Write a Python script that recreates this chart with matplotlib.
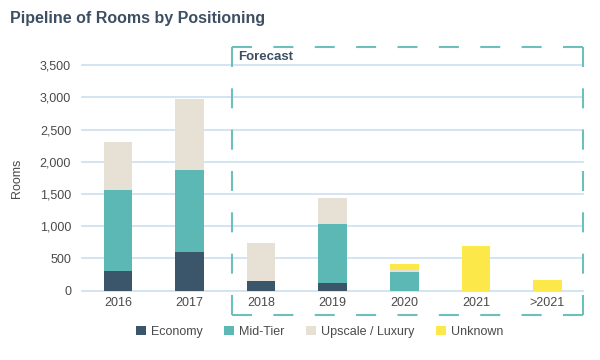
import numpy as np
from matplotlib import pyplot as plt
from matplotlib.lines import Line2D
from matplotlib.patches import Patch

plt.rcParams['font.family'] = ['Liberation Sans', 'DejaVu Sans']

# values
years = ["2016", "2017", "2018", "2019", "2020", "2021", ">2021"]
economy = [300, 600, 150, 120, 0, 0, 0]
mid_tier = [1260, 1270, 0, 910, 290, 0, 0]
upscale = [740, 1100, 590, 410, 30, 0, 0]
unknown = [0, 0, 0, 0, 95, 690, 165]

series = [
    ("Economy", economy, "#3b566b"),
    ("Mid-Tier", mid_tier, "#5cb8b5"),
    ("Upscale / Luxury", upscale, "#e6e0d5"),
    ("Unknown", unknown, "#fde84a"),
]

text_col = "#4a4a4a"
fig = plt.figure(figsize=(6, 3.6), dpi=100)
ax = fig.add_axes([0.137, 0.193, 0.835, 0.626])

x = np.arange(len(years))
bottom = np.zeros(len(years))
for name, vals, col in series:
    vals = np.array(vals, dtype=float)
    ax.bar(x, vals, 0.4, bottom=bottom, color=col, label=name, zorder=3)
    bottom += vals

ax.set_xlim(-0.5, len(years) - 0.5)
ax.set_ylim(0, 3500)
ax.set_yticks(np.arange(0, 3501, 500))
ax.set_yticklabels([f"{v:,}" for v in range(0, 3501, 500)])
ax.set_xticks(x)
ax.set_xticklabels(years)
ax.yaxis.grid(True, color="#cfe2f1", lw=1.3, zorder=0)
for gl in ax.get_ygridlines():
    gl.set_clip_on(False)
ax.set_axisbelow(True)
for s in ax.spines.values():
    s.set_visible(False)
ax.tick_params(length=0, labelsize=9, colors=text_col)
ax.tick_params(axis="y", pad=8)
ax.tick_params(axis="x", pad=5)
ax.set_ylabel("Rooms", fontsize=9, color=text_col, labelpad=12)

fig.text(0.017, 0.95, "Pipeline of Rooms by Positioning", fontsize=11.5,
         fontweight="bold", color="#3d4f63", va="center")

# dashed forecast box, each side drawn so that dashes meet at the corners
W, H = 600, 360
x0, x1, y0, y1 = 232, 583, 45, 313   # pixels from bottom-left
lw = 1.5
on = 20.0
for (xa, ya), (xb, yb) in [((x0, y1), (x1, y1)), ((x1, y1), (x1, y0)),
                           ((x1, y0), (x0, y0)), ((x0, y0), (x0, y1))]:
    L = np.hypot(xb - xa, yb - ya)
    n = max(1, round((L - on) / 39.0))
    off = (L - on) / n - on
    k = 72 / 100 / lw
    fig.add_artist(Line2D([xa / W, xb / W], [ya / H, yb / H],
                          transform=fig.transFigure, color="#6cc0bc", lw=lw,
                          linestyle=(0, (on * k, off * k)),
                          solid_capstyle="butt", dash_capstyle="butt"))

fig.text(0.397, 0.842, "Forecast", fontsize=9.5, fontweight="bold",
         color="#3d4f63", va="center")

handles = [Patch(facecolor=c, edgecolor="none", label=n) for n, _, c in series]
fig.legend(handles=handles, loc="center", bbox_to_anchor=(0.533, 0.078), ncol=4,
           frameon=False, fontsize=9, handlelength=0.8, handleheight=0.8,
           handletextpad=0.4, columnspacing=1.7, labelcolor=text_col)

fig.savefig("out.png", dpi=100)
